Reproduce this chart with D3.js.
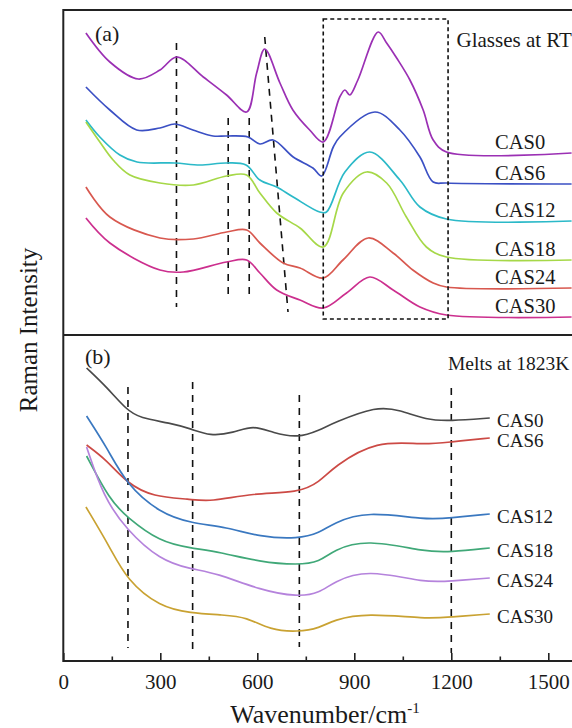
<!DOCTYPE html>
<html>
<head>
<meta charset="utf-8">
<script src="https://cdn.jsdelivr.net/npm/d3@7"></script>
<style>
  body { margin: 0; background: #fff; }
  svg text { font-family: "Liberation Serif", Tinos, "Times New Roman", Times, "DejaVu Serif", serif; fill: #1a1a1a; }
</style>
</head>
<body>
<div id="chart"></div>
<script>
// Raman spectra, [wavenumber (cm-1), intensity (a.u.)]
const glassNames = ["CAS0", "CAS6", "CAS12", "CAS18", "CAS24", "CAS30"]
const glassCAS0 = [[70,302],[144,273],[232,256],[299,265],[351,278],[433,258],[505,240],[567,223],[598,262],[623,286],[670,252],[710,225],[762,205],[804,193],[855,238],[871,245],[886,240],[911,255],[974,303],[1000,292],[1031,277],[1072,255],[1113,225],[1144,195],[1185,183],[1572,182]]
const glassCAS6 = [[70,248],[144,225],[227,205],[299,207],[345,211],[401,205],[463,199],[505,199],[571,198],[608,191],[649,195],[711,178],[772,167],[799,159],[835,188],[855,198],[964,223],[1041,205],[1103,178],[1144,153],[1185,152],[1572,151]]
const glassCAS12 = [[70,215],[113,198],[175,180],[228,173],[345,172],[423,170],[503,172],[565,170],[608,155],[660,148],[711,138],[793,123],[814,123],[871,163],[948,183],[1041,155],[1103,128],[1185,116],[1572,114]]
const glassCAS18 = [[70,213],[113,193],[154,175],[206,160],[299,152],[402,150],[505,159],[567,160],[608,142],[660,122],[732,107],[804,88],[866,142],[938,163],[1000,152],[1061,118],[1123,88],[1185,78],[1572,75]]
const glassCAS24 = [[70,148],[144,118],[299,97],[402,96],[505,103],[567,105],[608,92],[680,72],[732,67],[804,57],[865,75],[943,97],[1020,82],[1081,65],[1144,52],[1185,48],[1572,47]]
const glassCAS30 = [[70,117],[144,92],[299,65],[371,63],[505,73],[567,75],[608,62],[660,45],[732,35],[804,27],[876,42],[948,58],[1020,45],[1103,28],[1185,20],[1572,18]]
const glassSpectra = [glassCAS0, glassCAS6, glassCAS12, glassCAS18, glassCAS24, glassCAS30]
const glassColors = ["#9b30b4", "#3b50c4", "#2bb9c8", "#a6d848", "#d8584f", "#cc2f8e"]

const meltNames = ["CAS0", "CAS6", "CAS12", "CAS18", "CAS24", "CAS30"]
const meltCAS0 = [[72,293],[134,274],[196,251],[237,243],[330,238],[397,232],[453,225],[526,228],[587,236],[649,228],[726,223],[793,231],[835,238],[969,255],[1041,251],[1123,241],[1195,240],[1319,243]]
const meltCAS6 = [[72,216],[134,201],[196,178],[278,164],[392,162],[453,159],[587,168],[726,168],[793,179],[835,194],[969,221],[1113,216],[1195,219],[1319,223]]
const meltCAS12 = [[72,245],[134,214],[196,176],[299,148],[392,138],[505,134],[608,124],[726,122],[793,128],[835,138],[938,150],[1123,141],[1195,143],[1319,147]]
const meltCAS18 = [[72,205],[144,161],[196,144],[299,119],[392,113],[484,109],[608,99],[726,96],[793,99],[835,111],[938,122],[1123,109],[1195,109],[1319,113]]
const meltCAS24 = [[72,214],[124,164],[196,131],[299,101],[392,92],[474,88],[608,71],[726,64],[793,68],[835,79],[938,92],[1123,78],[1195,80],[1319,83]]
const meltCAS30 = [[70,154],[144,114],[196,81],[299,54],[392,48],[495,46],[567,44],[639,31],[726,29],[793,33],[835,41],[938,48],[1123,42],[1195,44],[1319,47]]
const meltSpectra = [meltCAS0, meltCAS6, meltCAS12, meltCAS18, meltCAS24, meltCAS30]
const meltColors = ["#4a4a4a", "#cc4a45", "#3a78c0", "#40a878", "#b583dc", "#c9a232"]

// dashed guide lines [x1, y1, x2, y2] and the dotted box [x1, y1, x2, y2]
const glassGuides = [[350,292,350,28],[510,217,510,38],[575,217,575,35],[623,298,695,23]]
const glassBox = [804, 16, 1190, 316]
const meltGuides = [[200,274,200,13],[400,279,400,9],[730,266,730,14],[1200,273,1200,8]]

const xTicks = [0, 300, 600, 900, 1200, 1500]
const xMinor = [150, 450, 750, 1050, 1350]

const svgWidth = 572, svgHeight = 728
const plotLeft = 63.3, plotTop = 10, plotMid = 335, plotBottom = 661
const serif = '"Liberation Serif", Tinos, "Times New Roman", Times, "DejaVu Serif", serif'

const svg = d3.select("#chart").append("svg")
    .attr("width", svgWidth)
    .attr("height", svgHeight)

const x = d3.scaleLinear().domain([0, 1500]).range([plotLeft, 548.3])
const yA = d3.scaleLinear().domain([0, 325]).range([plotMid, plotTop])
const yB = d3.scaleLinear().domain([0, 326]).range([plotBottom, plotMid])

function drawPanel(spectra, colors, y, guides, curve) {
    const g = svg.append("g")
    const line = d3.line()
        .x(d => x(d[0]))
        .y(d => y(d[1]))
        .curve(curve)

    g.selectAll(".guide")
        .data(guides)
        .enter()
        .append("line")
        .attr("x1", d => x(d[0])).attr("y1", d => y(d[1]))
        .attr("x2", d => x(d[2])).attr("y2", d => y(d[3]))
        .attr("stroke", "#111")
        .attr("stroke-width", 1.6)
        .attr("stroke-dasharray", "7,6")

    g.selectAll(".spec")
        .data(spectra)
        .enter()
        .append("path")
        .attr("d", line)
        .attr("fill", "none")
        .attr("stroke", (d, i) => colors[i])
        .attr("stroke-width", 1.7)

    return g
}

// (a) glasses at room temperature
const gA = drawPanel(glassSpectra, glassColors, yA, glassGuides, d3.curveCatmullRom.alpha(0.5))
gA.append("rect")
    .attr("x", x(glassBox[0]))
    .attr("y", yA(glassBox[3]))
    .attr("width", x(glassBox[2]) - x(glassBox[0]))
    .attr("height", yA(glassBox[1]) - yA(glassBox[3]))
    .attr("fill", "none")
    .attr("stroke", "#111")
    .attr("stroke-width", 1.6)
    .attr("stroke-dasharray", "4,3")

gA.selectAll(".lbl")
    .data(glassNames)
    .enter()
    .append("text")
    .attr("x", 495)
    .attr("y", (d, i) => yA(glassSpectra[i][glassSpectra[i].length - 1][1]) - 11)
    .attr("dominant-baseline", "central")
    .attr("font-size", 20.5)
    .text(d => d)

// (b) melts
const gB = drawPanel(meltSpectra, meltColors, yB, meltGuides, d3.curveBasis)
gB.selectAll(".lbl")
    .data(meltNames)
    .enter()
    .append("text")
    .attr("x", 497)
    .attr("y", (d, i) => yB(meltSpectra[i][meltSpectra[i].length - 1][1]) + 2)
    .attr("dominant-baseline", "central")
    .attr("font-size", 19)
    .text(d => d)

// frame (right edge falls outside the picture)
svg.append("path")
    .attr("d", `M${svgWidth + 20},${plotTop} H${plotLeft} V${plotBottom} H${svgWidth + 20} M${plotLeft},${plotMid} H${svgWidth + 20}`)
    .attr("fill", "none")
    .attr("stroke", "#222")
    .attr("stroke-width", 2)

// bottom axis with inward ticks
const xAxis = d3.axisBottom(x).tickValues(xTicks).tickSize(-8).tickPadding(13).tickFormat(d3.format("d"))
const axisG = svg.append("g")
    .attr("transform", `translate(0, ${plotBottom})`)
    .attr("font-family", serif)
    .call(xAxis)
axisG.select(".domain").remove()
axisG.selectAll("line").attr("stroke", "#222").attr("stroke-width", 1.6)
axisG.selectAll("text")
    .attr("font-size", 21)
    .attr("fill", "#1a1a1a")

const minorG = svg.append("g")
    .attr("transform", `translate(0, ${plotBottom})`)
    .call(d3.axisBottom(x).tickValues(xMinor).tickSize(-4.5).tickFormat(""))
minorG.select(".domain").remove()
minorG.selectAll("line").attr("stroke", "#222").attr("stroke-width", 1.6)

// panel texts
svg.append("text").attr("x", 95).attr("y", 41).attr("font-size", 22).text("(a)")
svg.append("text").attr("x", 85).attr("y", 364).attr("font-size", 22).text("(b)")
svg.append("text").attr("x", 456.5).attr("y", 46.5).attr("font-size", 21).text("Glasses at RT")
svg.append("text").attr("x", 448).attr("y", 369.5).attr("font-size", 19.5).text("Melts at 1823K")

// axis titles
svg.append("text")
    .attr("transform", "rotate(-90)")
    .attr("x", -330)
    .attr("y", 37)
    .attr("text-anchor", "middle")
    .attr("font-size", 25)
    .text("Raman Intensity")

const xt = svg.append("text")
    .attr("x", 325)
    .attr("y", 723)
    .attr("text-anchor", "middle")
    .attr("font-size", 26)
xt.append("tspan").text("Wavenumber/cm")
xt.append("tspan").attr("dy", -10).attr("font-size", 15).text("-1")
</script>
</body>
</html>
